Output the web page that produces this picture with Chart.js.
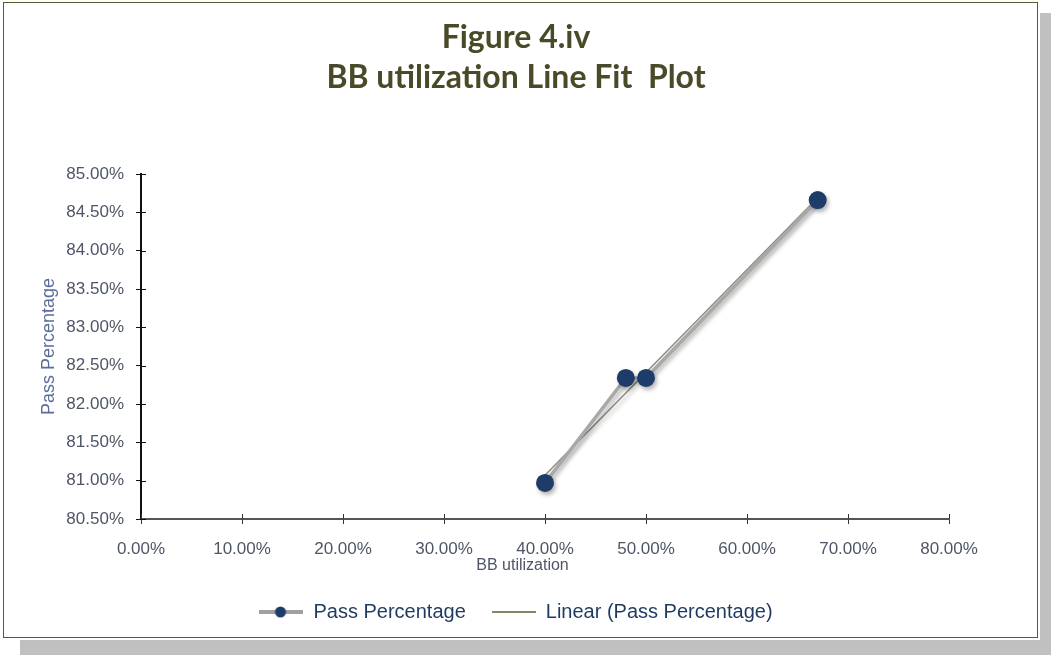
<!DOCTYPE html>
<html>
<head>
<meta charset="utf-8">
<script src="https://cdn.jsdelivr.net/npm/chart.js@4"></script>
<style>
  body { margin: 0; background: #fff; width: 1051px; height: 655px; overflow: hidden; position: relative; }
  #box { position: absolute; left: 3px; top: 2px; width: 1035px; height: 636px; box-sizing: border-box;
         border: 1px solid #5a5a30; background: #fff; }
  #shadowR { position: absolute; left: 1040px; top: 13px; width: 11px; height: 642px; background: #c0c0c0; }
  #shadowB { position: absolute; left: 20px; top: 640px; width: 1031px; height: 15px; background: #c0c0c0; }
  canvas { display: block; }
</style>
</head>
<body>
<div id="shadowR"></div>
<div id="shadowB"></div>
<div id="box"><canvas id="fitChart" width="1033" height="634"></canvas></div>
<script>
// values (percent)
const bbUtil = [40, 48, 50, 67];
const passPct = [80.97, 82.34, 82.34, 84.66];
// linear trend end points as drawn
const trendX = [40, 67];
const trendY = [81.07, 84.69];
const xTicks = [0, 10, 20, 30, 40, 50, 60, 70, 80];
const yTicks = [80.5, 81, 81.5, 82, 82.5, 83, 83.5, 84, 84.5, 85];

const font = "'Liberation Sans', Arial, sans-serif";

function toPoints(xs, ys) { return xs.map((x, i) => ({ x: x, y: ys[i] })); }

function legendMarker(withDot, color, lw) {
  const c = document.createElement('canvas');
  c.width = 44; c.height = 14;
  const g = c.getContext('2d');
  g.strokeStyle = color; g.lineWidth = lw;
  g.beginPath(); g.moveTo(0, 7); g.lineTo(44, 7); g.stroke();
  if (withDot) {
    g.fillStyle = '#1e3c6a';
    g.beginPath(); g.arc(21, 7, 5.5, 0, Math.PI * 2); g.fill();
  }
  return c;
}

const shadows = {
  id: 'shadows',
  beforeDatasetsDraw(chart) {
    const c = chart.ctx;
    c.save();
    c.shadowColor = 'rgba(0,0,0,0.3)';
    c.shadowBlur = 4; c.shadowOffsetX = 2; c.shadowOffsetY = 3;
  },
  afterDatasetsDraw(chart) { chart.ctx.restore(); }
};

// tick marks that cross the axis lines, and the x title centred on the whole chart
const axisExtras = {
  id: 'axisExtras',
  afterDraw(chart) {
    const c = chart.ctx, xs = chart.scales.x, ys = chart.scales.y;
    c.save();
    c.lineWidth = 1;
    c.strokeStyle = '#333';
    xTicks.forEach(v => {
      const px = Math.round(xs.getPixelForValue(v)) + 0.5;
      c.beginPath(); c.moveTo(px, ys.bottom); c.lineTo(px, ys.bottom - 5); c.stroke();
    });
    c.strokeStyle = '#111';
    yTicks.forEach(v => {
      const py = Math.round(ys.getPixelForValue(v)) + 0.5;
      c.beginPath(); c.moveTo(xs.left, py); c.lineTo(xs.left + 5, py); c.stroke();
    });
    c.fillStyle = '#4e5666';
    c.font = '16px ' + font;
    c.textAlign = 'center';
    c.textBaseline = 'middle';
    c.fillText('BB utilization', chart.width / 2 + 2, ys.bottom + 47);
    c.restore();
  }
};

new Chart(document.getElementById('fitChart').getContext('2d'), {
  type: 'scatter',
  data: {
    datasets: [
      {
        label: 'Pass Percentage',
        data: toPoints(bbUtil, passPct),
        showLine: true,
        borderColor: '#a8a8a8',
        borderWidth: 3.5,
        backgroundColor: '#1e3c6a',
        pointBackgroundColor: '#1e3c6a',
        pointBorderWidth: 0,
        pointRadius: 9
      },
      {
        label: 'Linear (Pass Percentage)',
        data: toPoints(trendX, trendY),
        showLine: true,
        borderColor: '#8f8f78',
        borderWidth: 1.5,
        pointRadius: 0
      }
    ]
  },
  options: {
    responsive: false,
    animation: false,
    layout: { padding: { left: 0, right: 9, top: 0, bottom: 5 } },
    scales: {
      x: {
        min: 0, max: 80,
        afterBuildTicks(s) { s.ticks = xTicks.map(v => ({ value: v })); },
        afterFit(s) { s.height = 57; },
        border: { color: '#555', width: 2 },
        grid: { drawOnChartArea: false, tickLength: 5, color: '#333' },
        ticks: { color: '#4e5666', font: { family: font, size: 17 }, padding: 15,
                 callback: v => v.toFixed(2) + '%' }
      },
      y: {
        min: 80.5, max: 85,
        afterBuildTicks(s) { s.ticks = yTicks.map(v => ({ value: v })); },
        afterFit(s) { s.width = 137; },
        border: { color: '#111', width: 2 },
        grid: { drawOnChartArea: false, tickLength: 5, color: '#111' },
        ticks: { color: '#4e5666', font: { family: font, size: 17 }, padding: 12,
                 callback: v => v.toFixed(2) + '%' },
        title: { display: true, text: 'Pass Percentage', color: '#5b6e9a',
                 font: { family: font, size: 18 }, padding: { top: 34, bottom: 0 } }
      },
      // empty right-hand box that keeps the plot area where it is
      spacer: {
        type: 'linear', position: 'right',
        afterFit(s) { s.width = 79; },
        grid: { display: false }, border: { display: false }, ticks: { display: false }
      }
    },
    plugins: {
      title: {
        display: true,
        text: ['Figure 4.iv', 'BB utilization Line Fit  Plot'],
        color: '#4a4a28',
        font: { family: "Lato, 'Open Sans', sans-serif", size: 32, weight: 'bold', lineHeight: 1.25 },
        padding: { top: 15, bottom: 76 }
      },
      legend: {
        position: 'bottom',
        labels: {
          color: '#1f3a5f',
          font: { family: font, size: 20 },
          usePointStyle: true,
          pointStyleWidth: 44,
          padding: 26,
          generateLabels() {
            return [
              { text: 'Pass Percentage', pointStyle: legendMarker(true, '#a0a0a0', 4),
                fontColor: '#1f3a5f', lineWidth: 0, datasetIndex: 0 },
              { text: 'Linear (Pass Percentage)', pointStyle: legendMarker(false, '#5f5f30', 1.5),
                fontColor: '#1f3a5f', lineWidth: 0, datasetIndex: 1 }
            ];
          }
        }
      },
      tooltip: { enabled: false }
    }
  },
  plugins: [shadows, axisExtras]
});
</script>
</body>
</html>
